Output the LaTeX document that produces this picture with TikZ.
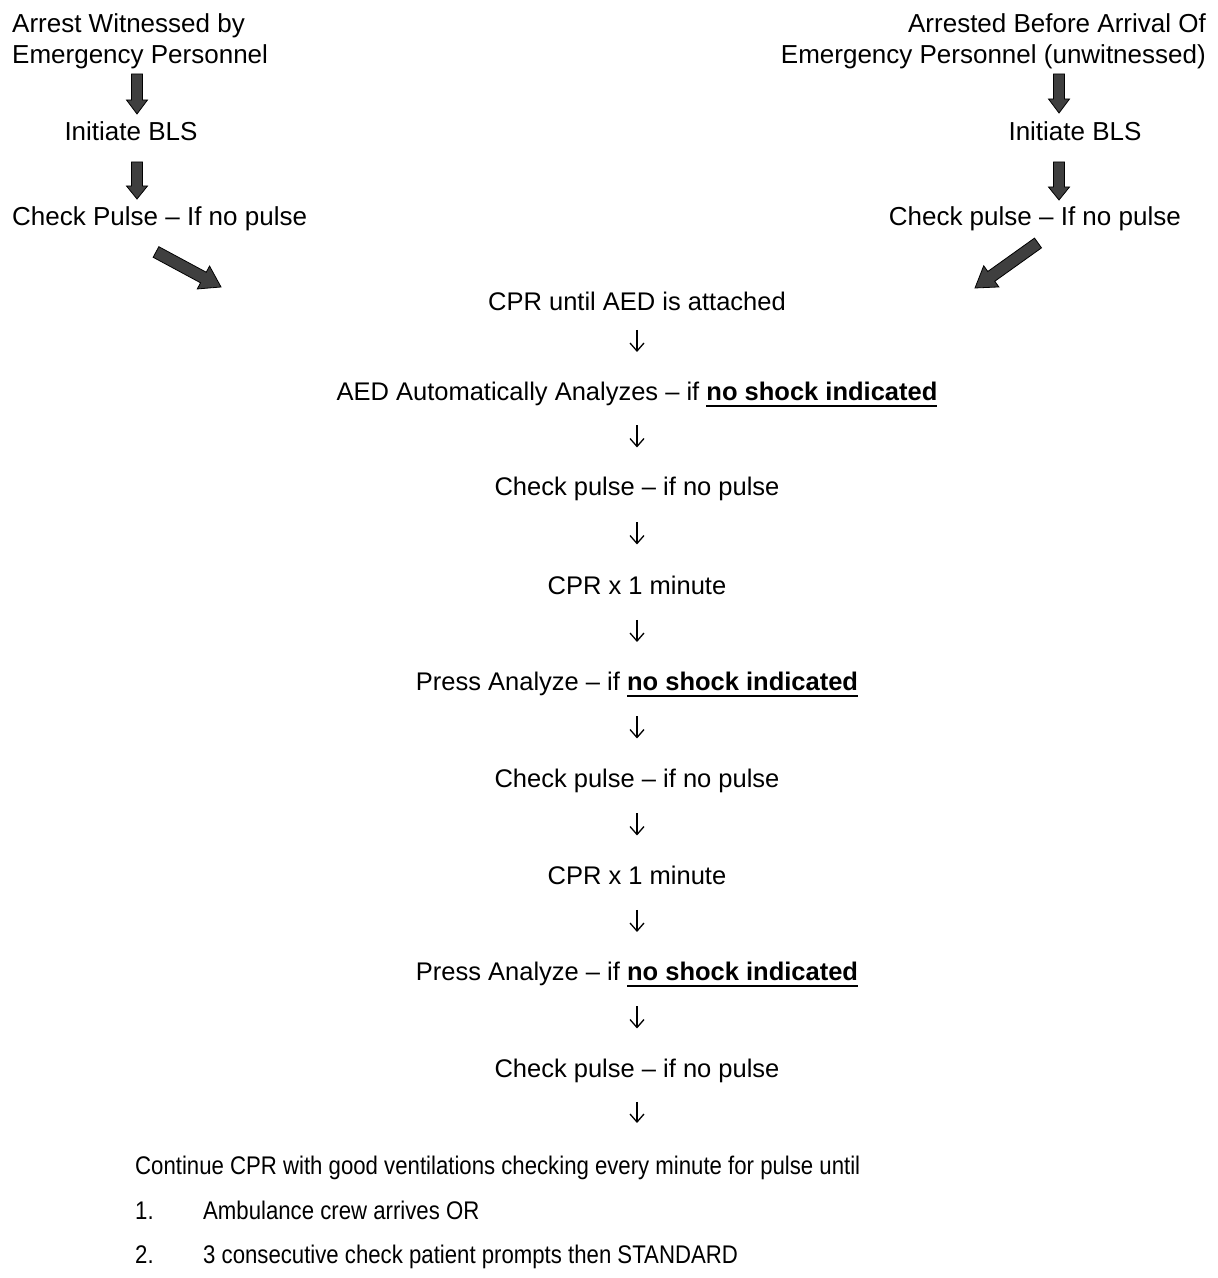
\documentclass[tikz,border=0pt]{standalone}
\usepackage{fontspec}
\usepackage{graphicx}
\setmainfont{Liberation Sans}
\usetikzlibrary{calc,arrows.meta}
\definecolor{arrowgrey}{HTML}{3F3F3F}
\newcommand\ubf[1]{\setbox0=\hbox{\bfseries #1}\leavevmode\rlap{\raisebox{-6.5pt}{\rule{\wd0}{2.8pt}}}\box0}
\newcommand\narrow[1]{\scalebox{0.87}[1]{#1}}
% block arrow from #1 to #2: shaft half width #3, head half width #4, head length #5
\newcommand\blockarrow[5]{%
  \coordinate (ba-h) at ($(#2)!#5!(#1)$);
  \filldraw[blockarr] ($(#1)!#3!90:(#2)$) -- ($(ba-h)!#3!90:(#2)$) -- ($(ba-h)!#4!90:(#2)$) -- (#2)
    -- ($(ba-h)!#4!-90:(#2)$) -- ($(ba-h)!#3!-90:(#2)$) -- ($(#1)!#3!-90:(#2)$) -- cycle;}
\begin{document}
\begin{tikzpicture}[x=1pt,y=1pt,
  top/.style={font=\fontsize{26}{31}\selectfont, inner sep=0pt},
  mid/.style={font=\fontsize{25.5}{31}\selectfont, inner sep=0pt, anchor=base},
  low/.style={font=\fontsize{25.5}{31}\selectfont, inner sep=0pt, anchor=base west},
  blockarr/.style={fill=arrowgrey, draw=black, line width=0.8pt, line join=miter},
  thinarr/.style={-{Straight Barb[length=8pt,width=14pt]}, line width=1.3pt}]
\useasboundingbox (0,0) rectangle (1218,1278);

% ---- top left branch
\node[top, align=left, anchor=north west] (wit) at (12,1265) {Arrest Witnessed by\\Emergency Personnel};
\node[top, anchor=base] (blsL) at (131,1137) {Initiate BLS};
\node[top, anchor=base west] (chkL) at (12,1052) {Check Pulse – If no pulse};
% ---- top right branch
\node[top, align=right, anchor=north east] (unw) at (1206,1265) {Arrested Before Arrival Of\\Emergency Personnel (unwitnessed)};
\node[top, anchor=base] (blsR) at (1075,1137) {Initiate BLS};
\node[top, anchor=base east] (chkR) at (1181,1052) {Check pulse – If no pulse};

% ---- centre column
\node[mid] (c1) at (637,967) {CPR until AED is attached};
\node[mid] (c2) at (637,877) {AED Automatically Analyzes – if \ubf{no shock indicated}};
\node[mid] (c3) at (637,782) {Check pulse – if no pulse};
\node[mid] (c4) at (637,683) {CPR x 1 minute};
\node[mid] (c5) at (637,587) {Press Analyze – if \ubf{no shock indicated}};
\node[mid] (c6) at (637,490) {Check pulse – if no pulse};
\node[mid] (c7) at (637,393) {CPR x 1 minute};
\node[mid] (c8) at (637,297) {Press Analyze – if \ubf{no shock indicated}};
\node[mid] (c9) at (637,200) {Check pulse – if no pulse};

% ---- bottom text
\node[low] (cont) at (135,103) {\narrow{Continue CPR with good ventilations checking every minute for pulse until}};
\node[low] (n1) at (135,58) {\narrow{1.}};
\node[low] (i1) at (203,58) {\narrow{Ambulance crew arrives OR}};
\node[low] (n2) at (135,15) {\narrow{2.}};
\node[low] (i2) at (203,15) {\narrow{3 consecutive check patient prompts then STANDARD}};

% ---- block arrows
\coordinate (aL1s) at (137,1204); \coordinate (aL1t) at (137,1164);
\coordinate (aL2s) at (137,1116); \coordinate (aL2t) at (137,1079);
\coordinate (aR1s) at (1059,1204); \coordinate (aR1t) at (1059,1165);
\coordinate (aR2s) at (1059,1116); \coordinate (aR2t) at (1059,1078);
\coordinate (aLDs) at (156,1026); \coordinate (aLDt) at (221,991);
\coordinate (aRDs) at (1038,1035); \coordinate (aRDt) at (975,990);
\blockarrow{aL1s}{aL1t}{5.5pt}{10.5pt}{14pt}
\blockarrow{aL2s}{aL2t}{5.5pt}{10.5pt}{13pt}
\blockarrow{aR1s}{aR1t}{5.5pt}{10.5pt}{14pt}
\blockarrow{aR2s}{aR2t}{5.5pt}{10.5pt}{13pt}
\blockarrow{aLDs}{aLDt}{6pt}{13pt}{20pt}
\blockarrow{aRDs}{aRDt}{6pt}{13pt}{20pt}

% ---- thin arrows
\foreach \a/\b in {c2/c3,c3/c4,c4/c5,c5/c6,c6/c7,c7/c8,c8/c9}{
  \draw[thinarr] ($(\a.base)!0.5!(\b.base)+(0,23)$) -- ($(\a.base)!0.5!(\b.base)+(0,1)$);
}
\draw[thinarr] ($(c1.base)!0.5!(c2.base)+(0,26)$) -- ($(c1.base)!0.5!(c2.base)+(0,4)$);
\draw[thinarr] ($(c9.base)+(0,-24)$) -- ($(c9.base)+(0,-45)$);
\end{tikzpicture}
\end{document}
